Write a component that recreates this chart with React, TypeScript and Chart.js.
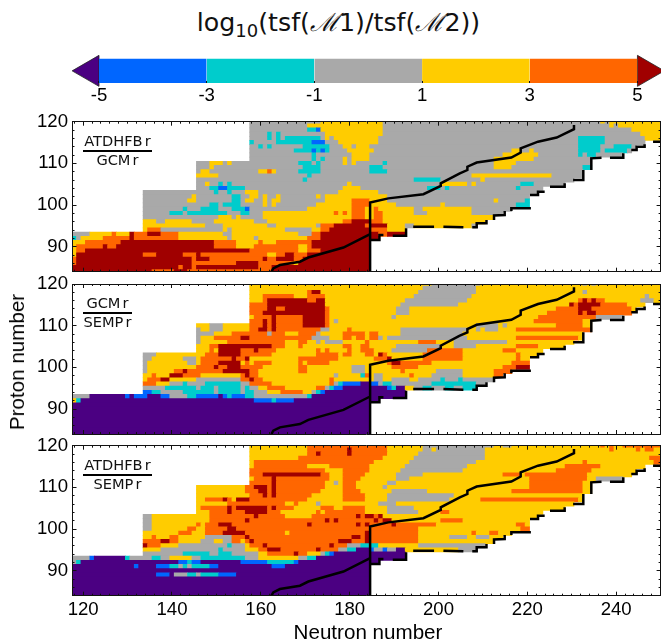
import React, { useEffect, useRef } from "react";
import { Chart, registerables } from "chart.js";

Chart.register(...registerables);

const WIDTH = 661;

// colour classes of log10(tsf ratio)
const classColors: Record<string, string> = {
  P: "#4B0082",
  B: "#0066FF",
  C: "#00CCCC",
  G: "#A9A9A9",
  Y: "#FFCC00",
  O: "#FF6600",
  R: "#A00000",
};

// last neutron number of each proton row, Z = 84 ... 120
const rowLastN = [
  184, 184, 184, 184, 184, 184, 184, 184, 186, 192, 192, 208, 210, 212, 214, 216, 220, 220, 220,
  222, 223, 228, 230, 232, 232, 234, 234, 234, 241, 243, 244, 246, 250, 250, 250, 250, 250,
];

// each row is Z = 120, 119, ... 84; each token = colour class + first N of the run
const atdhfbOverGcm = [
  "G158 Y174 G188 Y237 G238 Y239",
  "G158 Y171 G188 Y239 G240 Y241",
  "G158 C171 B173 Y174 G188 Y244",
  "G158 C162 G163 C164 G165 Y175 G188 Y246",
  "G158 C162 G163 C164 G165 C166 G174 Y175 G176 Y177 G187 C232 G238 Y247",
  "C158 G159 C164 B172 G175 Y178 G187 C232 G238",
  "G158 C160 G161 C162 G163 C170 G176 Y179 G181 Y182 G185 C232 G237 C240 G244",
  "G158 C168 B172 C173 B174 C175 G176 Y180 G186 Y217 G219 Y221 G222 C232 G237 C238 G243",
  "G158 C172 G173 Y181 G185 Y215 G223 C232 G233 C234 G236",
  "G158 C172 G173 C174 G175 Y179 G180 Y181 G185 Y213 G222",
  "G146 Y149 G152 Y153 G154 C169 G172 C173 G174 Y179 G180 Y181 G182 C188 G189 Y213 G218",
  "G146 Y149 G150 C170 G174 C185 G188 Y213 G217 C233",
  "G146 Y147 G149 Y160 O162 Y163 G164 C169 G174 C185 G189",
  "Y146 G151 C171 G172 Y208 G226",
  "G146 C170 G171 C195 G201 Y210 G211",
  "G146 Y148 G149 C151 G152 C153 G154 Y180 G181 Y201 G207 Y208 G209 C219 G222",
  "G146 C149 B151 C153 G157 Y179 G183 C198 G201 C202 G203 C218 G219",
  "G134 C150 G151 C153 G154 Y157 G160 Y178 G187",
  "G134 Y145 G146 C154 G156 Y158 G160 Y161 G162 Y164 G165 Y173 G174 Y175 G189",
  "G134 Y144 G146 C154 G156 Y157 G159 Y161 G162 Y163 G165 Y175 O181 Y185 G189 Y213 G214 C220",
  "G134 C149 G151 C152 G156 Y161 G162 Y163 G164 Y173 O181 Y185 G191 Y201 G202 C218",
  "G134 C143 G144 C147 G151 C154 B157 G158 Y171 O181 Y184 O186 Y187 G195 Y197 G208",
  "G134 C140 G143 C144 G153 C156 G158 Y161 O177 Y178 O179 Y180 O181 Y184 O186 Y188 G195 Y198 G208",
  "G134 Y151 G154 Y155 G156 Y161 O181 Y184 O186 Y188",
  "Y134 G137 Y139 G145 Y150 G159 Y162 O179 R181 O185 Y188",
  "Y134 G148 Y152 G162 Y164 G173 O174 R177 O184 R185 Y189 G193 Y195 G208",
  "Y134 O135 G138 Y152 G153 Y154 G166 Y172 O174 R176 O185 Y189",
  "G118 Y122 O127 Y128 R131 O132 R135 O138 Y142 G152 Y154 G169 O172 R174 O187 R189",
  "C118 G119 Y120 O125 R131 O132 Y142 G153 Y154 G159 Y160 O171 R174",
  "Y118 O121 R129 O150 Y155 O160 Y161 O164 R172",
  "Y118 O119 R125 O126 R128 O150 Y155 O159 Y169 O171 R172",
  "Y118 O119 R121 O158 Y169 O171 R174",
  "Y118 R119 O134 R137 O143 R146 O147 Y162 O164 R166 O168 R171",
  "O118 R119 O145 R146 O149 R161 O162 R164 O168 R170",
  "O118 R119 O145 R155 O160 Y168 R169",
  "R118 O142 R143 O145 R146 O160 R163",
  "R118 O136 R141 O144 R163",
];

const gcmOverSemp = [
  "Y158 G199 Y210 G233 Y234 G235 Y236",
  "Y158 G197 Y209",
  "Y158 O171 R172 Y174 G196 Y209 G233 Y234",
  "Y158 O161 Y168 O171 Y175 G195 Y208 G247 Y248",
  "Y158 O161 R162 O171 R173 Y175 G193 Y207 O232 R233 O234 R235 O236 Y238 G246 Y249",
  "O158 R162 Y175 G192 Y205 R230 O231 R232 O237 Y243",
  "O158 R162 O164 R166 O175 Y176 G191 Y194 O227 R232 O235 Y244",
  "O158 R161 O175 Y176 G191 Y194 O225 R232 O233 R234 O236",
  "Y158 O159 R163 O164 R170 O175 Y176 G190 Y191 O223 G236",
  "O158 R161 O162 R163 O164 R170 O175 Y176 G177 Y178 O222 Y233",
  "Y146 G149 Y152 O158 R161 O162 R163 O164 R170 O175 Y176 G209 Y214 G215 Y216 O227 Y233",
  "G146 Y147 G149 Y152 O158 R160 O162 R163 O164 G174 Y176 O180 Y181 G192 Y207 G209 Y210 G211 Y214 O218",
  "G146 Y150 O154 G162 O163 Y166 O169 G173 Y174 O179 Y184 O185 Y187 G192 Y206",
  "G146 Y147 O150 R156 O158 G172 Y176 O179 Y181 O182 Y184 O185 G187 Y188 G189 Y207 O218 Y232",
  "G146 Y147 O153 Y166 O169 Y171 G173 Y174 G175 Y179 O184 Y185 O196 Y200 G204 Y216",
  "Y146 O149 R151 O163 Y166 O169 Y170 O179 Y181 O183 Y185 G191 Y201 G204 Y209 O218 Y223",
  "Y146 O149 Y150 R151 O156 R159 O160 Y164 O173 Y174 O175 Y176 O180 Y181 O183 Y186 G190 O198 Y206 O215 Y218",
  "G134 Y137 O148 R151 O156 Y163 O173 Y178 O179 Y181 O184 Y186 R187 O188 Y189 O197 Y206 O218 Y219",
  "G134 Y136 G143 Y146 O147 R154 O155 R157 Y158 O169 Y178 O186 R189 Y190 O197 Y206 O218 Y219",
  "G134 Y135 G144 Y146 O147 R151 Y156 O157 Y158 O159 Y163 O169 Y170 O171 Y176 O189 R190 O192 Y199 O217",
  "G134 Y135 O146 R150 O151 R153 O156 Y161 O169 Y171 G181 Y184 O190 Y196 O215 R218",
  "G134 Y135 O141 R143 O144 R152 O158 Y160 O169 Y171 G181 Y184 O192 Y193 G200 Y206 O213",
  "Y134 O136 Y137 R140 O143 Y147 O156 R157 O158 Y160 G177 Y178 C183 O184 Y185 G186 Y188 O194 Y195 G199 Y206 O213",
  "Y134 O135 R138 Y140 G146 O156 R158 O159 Y161 O176 Y177 G186 Y188 G190 Y194 G196 C201 G202 C205 G206",
  "O134 Y137 G140 C143 G144 C148 G156 O158 Y163 O176 G177 C178 B179 P183 B185 G187 C188 G190 C199 G209",
  "G134 C139 G146 C147 G150 C151 G156 C157 G158 Y160 O162 Y166 O173 G175 C176 B177 P179 B189 C190 P191 Y193 G195 C197 G199 C202 G204 C206",
  "B134 C136 G138 C143 G150 C151 G156 C157 G159 Y162 O165 Y170 G172 C173 B174 P175",
  "G118 P122 B130 P131 B132 P135 B138 G140 C144 B146 P151 B152 C153 B154 C157 G159 C171 P172",
  "Y118 C119 P120 B159 C163 B164 P168",
  "P118",
  "P118",
  "P118",
  "P118",
  "P118",
  "P118",
  "P118",
  "P118",
];

const atdhfbOverSemp = [
  "Y158 O171 Y189 G197 Y213 G215 Y217 O237 Y238 O239 Y240 O242",
  "Y158 O171 R180 O181 Y189 G197 Y199 G200 Y211 O239 Y240 O245 Y246 O247 Y249",
  "Y158 O171 R173 O174 R180 O181 Y189 G196 Y211",
  "Y158 O169 Y188 G195 Y211 O248",
  "Y158 O159 Y186 G194 Y209 O233 Y234 O249",
  "Y158 O159 Y171 O176 Y185 G193 Y207 O229 Y237",
  "O158 Y175 O179 Y185 G192 Y206 O227 Y235",
  "O158 R161 O174 Y176 O179 Y184 G191 Y197 O215 Y219 O220 Y234",
  "Y158 O159 R163 O164 Y176 O179 Y183 G191 Y194 O221 Y234 G236",
  "O158 R163 O164 Y175 G177 Y178 O179 Y182 G189 Y191 O221 Y233",
  "Y146 O157 R159 O162 R163 O164 Y175 O179 Y182 G188 Y189 O221 Y233",
  "Y146 O157 R160 O162 R163 O164 Y174 O179 Y183 G190 Y198 O217 Y233",
  "Y146 O158 R161 O162 R163 O164 Y172 O179 Y184 G189 Y204",
  "Y146 O148 R152 O153 Y154 R155 O158 Y171 O179 Y184 G189 Y203 O210 Y232",
  "Y146 O153 Y166 O168 Y169 G173 Y174 G187 Y191",
  "Y146 O147 R153 O154 R155 O162 R163 O164 Y168 O174 Y177 O179 Y184 G189 Y195",
  "Y146 O149 R153 O154 R157 O162 Y165 O173 Y174 O175 Y184 G189 Y196 O201 Y203",
  "G134 Y136 O149 R159 O160 Y166 O172 R182 O183 R184 O186 R187 Y188",
  "G134 Y136 O149 R157 O158 R175 O176 R177 O178 R186 O187 R188 Y190 O201 Y206",
  "G134 Y136 O146 Y147 O148 R151 O154 R171 O172 R182 O183 R184 O185 R190 O191 Y200 O218 Y220",
  "G134 Y136 O144 Y146 O148 R153 O155 Y196 O219",
  "Y134 O142 Y145 O148 R152 O157 Y166 O167 R184 O185 Y196 O208 Y209 O212 Y214",
  "Y134 O136 Y137 O140 Y142 G148 O154 R157 O158 R181 O183 R184 O185 Y196 G203 Y207 G209 Y212",
  "O134 R138 O140 Y142 G147 Y150 G152 O154 Y156 O157 R158 O159 R178 O181 R184 O185 Y196",
  "R134 O135 Y138 G142 C153 G154 Y157 O158 R161 O162 R176 O177 G180 C183 Y187 G196",
  "Y134 G138 C151 G152 Y157 O160 R162 O165 R173 O174 G178 C180 P182 B185 G186 B188 G189 P191 Y193 G205",
  "G134 C143 G149 C151 G154 Y160 O162 R168 O169 Y171 G174 C175 B176 P177",
  "G118 B122 P123 C130 G131 C136 G138 Y140 G145 C147 G157 Y160 G169 C171 P173",
  "G118 C119 P120 B142 C144 B145 P147 B156 C162 B168 P169",
  "P118 B132 P133 B137 C140 G142 C143 G144 C145 B149 P151 B163 P166",
  "P118",
  "P118 B137 P140 G141 C144 G146 C147 B151 P155",
  "P118",
  "P118",
  "P118",
  "P118",
  "P118",
];

// solid curve and its vertical line (null = break)
const curveN = [162.4, 162.8, 164.3, 168.8, 170.7, 178.6, 184.6, null, 184.6, 184.6, 188.7, 196.6, 200.5, 200.5, 204.8, 206.5, 206.5, 208.6, 216.4, 218.5, 218.5, 222.4, 226.6, 230.5, 230.5];
const curveZ = [84, 84.8, 85.6, 86.4, 87.4, 89.8, 93, null, 84, 100.6, 101.6, 102.6, 104.6, 105.2, 107.6, 108.4, 109.2, 110.2, 111.4, 112.6, 113.6, 115.2, 116.2, 118.2, 119.2];

// dashed edge of the nuclear chart (null = gap)
const edgeN = [184.6, 186.7, 186.7, 187.6, null, 189.7, 192.7, 192.7, null, 194.3, 199, null, 201.1, 205.6, null, 207.6, 208.6, 208.6, 210.8, 210.8, null, 212.5, 212.5, 214.9, 214.9, null, 216.4, 216.4, 220.8, null, 220.6, 222.4, 222.4, 223.9, null, 225.1, 228.4, 228.4, null, 230.3, 232.6, 232.6, null, 234.4, 234.4, 236.7, null, 238.6, 241.6, 241.6, null, 243.4, 244.6, 244.6, 246.4, 246.4, null, 248.3, 250];
const edgeZ = [91.6, 91.6, 92.8, 92.8, null, 92.64, 92.64, 94.4, null, 94.8, 94.8, null, 94.8, 94.64, null, 94.64, 94.64, 95.6, 95.6, 96.4, null, 96.4, 97.5, 97.6, 98.56, null, 98.56, 99.2, 99.2, null, 102.4, 102.4, 103.2, 103.2, null, 104.4, 104.4, 105.2, null, 106, 106, 108.4, null, 108.4, 111.2, 111.36, null, 111.36, 111.36, 112.4, null, 113.2, 113.2, 114, 114, 114.6, null, 115.2, 115.2];

const xMajorTicks = [120, 140, 160, 180, 200, 220, 240];
const yMajorTicks = [90, 100, 110, 120];
const xMinorStep = 2;
const yMinorStep = 2;
const colorbarEdges = [-5, -3, -1, 1, 3, 5];
const colorbarClasses = ["B", "C", "G", "Y", "O"];
const colorbarCaps = [-5.166, 5.166];

function range(a: number, b: number, s: number) {
  const out: number[] = [];
  for (let v = a; v <= b; v += s) out.push(v);
  return out;
}

function cellsOf(rows: string[]) {
  const data: any[] = [];
  const colors: string[] = [];
  rows.forEach((row, i) => {
    const z = 120 - i;
    const tokens = row.split(" ");
    tokens.forEach((t, k) => {
      const start = Number(t.slice(1));
      const end = k + 1 < tokens.length ? Number(tokens[k + 1].slice(1)) - 1 : rowLastN[z - 84];
      if (end < start) return;
      data.push({ x: [start - 0.5, end + 0.5], y: z });
      colors.push(classColors[t[0]]);
    });
  });
  return { data, colors };
}

function pointsOf(ns: (number | null)[], zs: (number | null)[]) {
  return ns.map((x, i) => ({ x: x === null ? NaN : x, y: zs[i] }));
}

const TICK_FONT = { family: "'Liberation Sans', Arial, sans-serif", size: 18.6 };
const X_MIN = 117.6;
const X_MAX = 250;
const PLOT_LEFT = 72.5;
const PLOT_RIGHT = 660.6;
const PLOT_H = 150;

function axis(
  position: string,
  values: number[],
  tick: number,
  opts: { min: number; max: number; size?: number; labels?: boolean; padding?: number; weight?: number; border?: boolean }
) {
  const horizontal = position === "top" || position === "bottom";
  return {
    type: "linear",
    axis: horizontal ? "x" : "y",
    position,
    display: true,
    offset: false,
    min: opts.min,
    max: opts.max,
    weight: opts.weight ?? 0,
    afterBuildTicks: (s: any) => {
      s.ticks = values.map((value) => ({ value }));
    },
    afterFit: (s: any) => {
      if (horizontal) s.height = opts.size ?? 0;
      else s.width = opts.size ?? 0;
      s.paddingLeft = 0;
      s.paddingRight = 0;
      s.paddingTop = 0;
      s.paddingBottom = 0;
    },
    grid: { offset: false, drawOnChartArea: false, drawTicks: true, tickLength: -tick, tickColor: "#111", tickWidth: 1, z: 2 },
    border: { display: opts.border ?? false, color: "#111", width: 1, z: 2 },
    ticks: {
      display: !!opts.labels,
      autoSkip: false,
      maxRotation: 0,
      minRotation: 0,
      padding: opts.padding ?? 0,
      color: "#000",
      font: TICK_FONT,
      callback: (v: any) => String(v),
    },
  };
}

function makePanel(canvas: HTMLCanvasElement, rows: string[], plotTop: number, canvasTop: number, showX: boolean, height: number) {
  const { data, colors } = cellsOf(rows);
  const xMinor = range(118, 250, xMinorStep);
  const yMinor = range(84, 120, yMinorStep);
  const xLim = { min: X_MIN, max: X_MAX };
  const yLim = { min: 84, max: 120 };
  const topPad = plotTop - canvasTop;
  const bottomSize = height - topPad - PLOT_H;
  return new Chart(canvas, {
    type: "bar",
    data: {
      datasets: [
        {
          type: "line",
          data: pointsOf(curveN, curveZ),
          borderColor: "#000",
          borderWidth: 2.5,
          pointRadius: 0,
          tension: 0,
          xAxisID: "x",
          yAxisID: "y",
          order: 0,
        },
        {
          type: "line",
          data: pointsOf(edgeN, edgeZ),
          borderColor: "#000",
          borderWidth: 2.5,
          pointRadius: 0,
          tension: 0,
          xAxisID: "x",
          yAxisID: "y",
          order: 0,
        },
        {
          type: "bar",
          indexAxis: "y",
          data,
          backgroundColor: colors,
          borderWidth: 0,
          barThickness: PLOT_H / 36,
          inflateAmount: 0.35,
          xAxisID: "x",
          yAxisID: "y",
          order: 1,
        },
      ] as any,
    },
    options: {
      responsive: false,
      animation: false,
      events: [],
      layout: { padding: { top: topPad, left: 0, right: WIDTH - PLOT_RIGHT, bottom: 0 } },
      plugins: { legend: { display: false }, tooltip: { enabled: false }, title: { display: false } },
      scales: {
        x: axis("bottom", xMajorTicks, 4, { ...xLim, size: bottomSize, labels: showX, padding: 6.6, weight: 1, border: true }),
        xMinor: axis("bottom", xMinor, 2, { ...xLim }),
        xTop: axis("top", xMajorTicks, 4, { ...xLim, weight: 1, border: true }),
        xTopMinor: axis("top", xMinor, 2, { ...xLim }),
        y: axis("left", yMajorTicks, 4, { ...yLim, size: PLOT_LEFT, labels: true, padding: 8.5, weight: 1, border: true }),
        yMinor: axis("left", yMinor, 2, { ...yLim }),
        yRight: axis("right", yMajorTicks, 4, { ...yLim, weight: 1, border: true }),
        yRightMinor: axis("right", yMinor, 2, { ...yLim }),
      } as any,
    },
  });
}

function makeColorbar(canvas: HTMLCanvasElement) {
  const bars = colorbarClasses.map((_, i) => ({ x: [colorbarEdges[i], colorbarEdges[i + 1]], y: 0.5 }));
  return new Chart(canvas, {
    type: "bar",
    data: {
      datasets: [
        {
          type: "bar",
          indexAxis: "y",
          data: bars,
          backgroundColor: colorbarClasses.map((c) => classColors[c]),
          borderColor: "#111",
          borderWidth: { top: 1, bottom: 1, left: 0, right: 0 },
          borderSkipped: false,
          barThickness: 31,
          inflateAmount: 0,
          xAxisID: "x",
          yAxisID: "y",
        },
        {
          type: "scatter",
          data: [
            { x: colorbarCaps[0], y: 0.5 },
            { x: colorbarCaps[1], y: 0.5 },
          ],
          pointStyle: "triangle",
          pointRotation: [-90, 90],
          pointRadius: 17.9,
          backgroundColor: [classColors.P, classColors.R],
          borderColor: "#222",
          borderWidth: 0.8,
          clip: false,
          xAxisID: "x",
          yAxisID: "y",
        },
      ] as any,
    },
    options: {
      responsive: false,
      animation: false,
      events: [],
      layout: { padding: { top: 13, left: 72.6, right: 0, bottom: 0 } },
      plugins: { legend: { display: false }, tooltip: { enabled: false } },
      scales: {
        x: {
          ...axis("bottom", colorbarEdges, 2, { min: -5.49, max: 5.09, size: 30, labels: true, padding: 4, border: false }),
        },
        y: { type: "linear", display: false, offset: false, min: 0, max: 1, afterFit: (s: any) => { s.width = 0; } },
      } as any,
    },
  });
}

const absolute: React.CSSProperties = { position: "absolute", left: 0, display: "block" };

function Fraction({ top, width, upper, lower }: { top: number; width: number; upper: string; lower: string }) {
  const text: React.CSSProperties = {
    position: "absolute",
    left: 83,
    width,
    textAlign: "center",
    font: "14.6px 'DejaVu Sans', sans-serif",
    lineHeight: "16px",
    color: "#111",
    whiteSpace: "nowrap",
    wordSpacing: -2.5,
  };
  return (
    <>
      <div style={{ ...text, top: top - 18 }}>{upper}</div>
      <div style={{ position: "absolute", left: 83, width, top: top - 1, height: 2, background: "#000" }} />
      <div style={{ ...text, top: top + 1 }}>{lower}</div>
    </>
  );
}

export default function App() {
  const barRef = useRef<HTMLCanvasElement>(null);
  const p1 = useRef<HTMLCanvasElement>(null);
  const p2 = useRef<HTMLCanvasElement>(null);
  const p3 = useRef<HTMLCanvasElement>(null);

  useEffect(() => {
    const charts = [
      makeColorbar(barRef.current!),
      makePanel(p1.current!, atdhfbOverGcm, 121.7, 108, false, 176),
      makePanel(p2.current!, gcmOverSemp, 284, 270, false, 176),
      makePanel(p3.current!, atdhfbOverSemp, 445.7, 432, true, 192),
    ];
    return () => charts.forEach((c) => c.destroy());
  }, []);

  const scriptM: React.CSSProperties = { fontFamily: "'DejaVu Serif', serif", fontStyle: "italic" };

  return (
    <div style={{ position: "absolute", left: 0, top: 0, width: WIDTH, height: 641, overflow: "hidden", background: "#fff" }}>
      <div
        style={{
          position: "absolute",
          left: 0,
          top: 8,
          width: WIDTH,
          paddingLeft: 16,
          boxSizing: "border-box",
          textAlign: "center",
          font: "25.3px 'DejaVu Sans', sans-serif",
          lineHeight: "30px",
          color: "#111",
          whiteSpace: "nowrap",
        }}
      >
        log<sub style={{ fontSize: 18, lineHeight: 0 }}>10</sub>(tsf(<span style={scriptM}>ℳ</span>1)/tsf(<span style={scriptM}>ℳ</span>2))
      </div>
      <canvas ref={barRef} width={WIDTH} height={73} style={{ ...absolute, top: 40 }} />
      <canvas ref={p1} width={WIDTH} height={176} style={{ ...absolute, top: 108 }} />
      <canvas ref={p2} width={WIDTH} height={176} style={{ ...absolute, top: 270 }} />
      <canvas ref={p3} width={WIDTH} height={192} style={{ ...absolute, top: 432 }} />
      <Fraction top={150.7} width={69} upper="ATDHFB r" lower="GCM r" />
      <Fraction top={312.7} width={49} upper="GCM r" lower="SEMP r" />
      <Fraction top={474.7} width={69} upper="ATDHFB r" lower="SEMP r" />
      <div
        style={{
          position: "absolute",
          left: 292,
          top: 621,
          width: 152,
          textAlign: "center",
          font: "20.6px 'Liberation Sans', Arial, sans-serif",
          lineHeight: "22px",
          color: "#000",
          whiteSpace: "nowrap",
        }}
      >
        Neutron number
      </div>
      <div
        style={{
          position: "absolute",
          left: 17,
          top: 362,
          transform: "translate(-50%, -50%) rotate(-90deg)",
          font: "20.6px 'Liberation Sans', Arial, sans-serif",
          lineHeight: "22px",
          color: "#000",
          whiteSpace: "nowrap",
        }}
      >
        Proton number
      </div>
    </div>
  );
}
